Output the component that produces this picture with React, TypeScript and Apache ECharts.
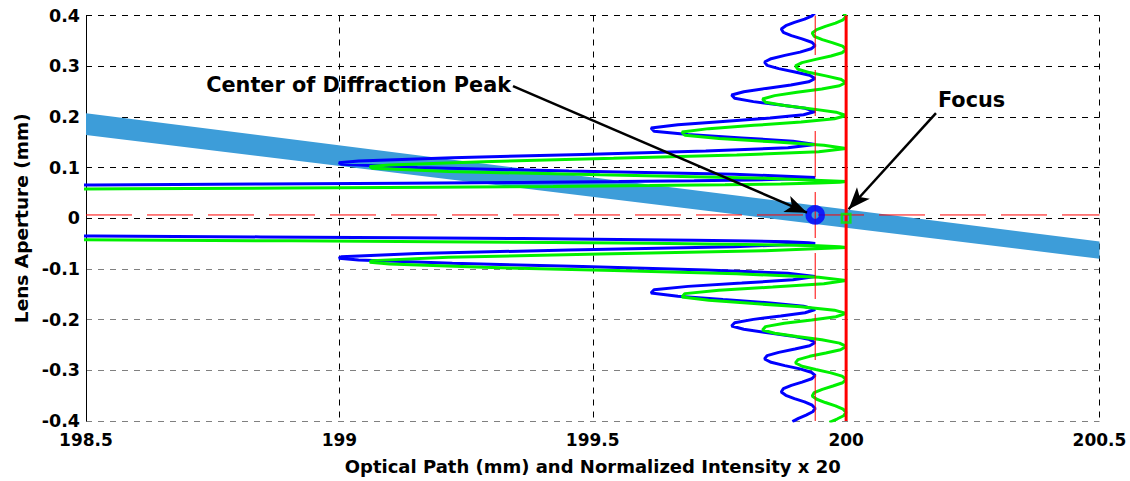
import React, { useEffect, useRef } from "react";
import * as echarts from "echarts";

// Axis ranges and tick steps
const pathRange = [198.5, 200.5];
const pathStep = 0.5;
const apertureRange = [-0.4, 0.4];
const apertureStep = 0.1;

// Ray bundle (filled band): optical path vs. upper / lower aperture edge
const bandPath = [198.5, 200.5];
const bandUpper = [0.207, -0.046];
const bandLower = [0.164, -0.08];

// Diffraction pattern around the peak: [optical path + intensity x 20, aperture]
const bluePattern: [number, number][] = [
  [199.939, 0.4059], [199.933, 0.3994], [199.918, 0.3929], [199.898, 0.3864], [199.881, 0.3799],
  [199.872, 0.3734], [199.876, 0.3668], [199.892, 0.3603], [199.913, 0.3538], [199.932, 0.3473],
  [199.939, 0.3408], [199.931, 0.3343], [199.909, 0.3278], [199.879, 0.3213], [199.852, 0.3148],
  [199.839, 0.3083], [199.844, 0.3017], [199.867, 0.2952], [199.899, 0.2887], [199.928, 0.2822],
  [199.939, 0.2757], [199.926, 0.2692], [199.891, 0.2627], [199.842, 0.2562], [199.798, 0.2497],
  [199.774, 0.2432], [199.78, 0.2366], [199.817, 0.2301], [199.871, 0.2236], [199.919, 0.2171],
  [199.939, 0.2106], [199.916, 0.2041], [199.85, 0.1976], [199.757, 0.1911], [199.668, 0.1846],
  [199.615, 0.1781], [199.621, 0.1715], [199.688, 0.165], [199.794, 0.1585], [199.895, 0.152],
  [199.939, 0.1455], [199.885, 0.139], [199.723, 0.1325], [199.48, 0.126], [199.223, 0.1195],
  [199.038, 0.113], [198.999, 0.1097], [199.004, 0.1064], [199.154, 0.0999], [199.453, 0.0934],
  [199.779, 0.0869], [199.939, 0.0804], [199.926, 0.0788], [199.884, 0.0772], [199.81, 0.0755],
  [199.7, 0.0739], [199.551, 0.0723], [199.361, 0.0706], [199.126, 0.069], [198.845, 0.0674],
  [198.516, 0.0658], [198.138, 0.0641], [197.232, 0.0609],
  [197.232, -0.0303], [198.138, -0.0335], [198.516, -0.0352], [198.845, -0.0368], [199.126, -0.0384],
  [199.361, -0.04], [199.551, -0.0417], [199.7, -0.0433], [199.81, -0.0449], [199.884, -0.0466],
  [199.926, -0.0482], [199.939, -0.0498], [199.779, -0.0563], [199.453, -0.0628], [199.154, -0.0693],
  [199.004, -0.0758], [198.999, -0.0791], [199.038, -0.0824], [199.223, -0.0889], [199.48, -0.0954],
  [199.723, -0.1019], [199.885, -0.1084], [199.939, -0.1149], [199.895, -0.1214], [199.794, -0.1279],
  [199.688, -0.1344], [199.621, -0.1409], [199.615, -0.1475], [199.668, -0.154], [199.757, -0.1605],
  [199.85, -0.167], [199.916, -0.1735], [199.939, -0.18], [199.919, -0.1865], [199.871, -0.193],
  [199.817, -0.1995], [199.78, -0.206], [199.774, -0.2126], [199.798, -0.2191], [199.842, -0.2256],
  [199.891, -0.2321], [199.926, -0.2386], [199.939, -0.2451], [199.928, -0.2516], [199.899, -0.2581],
  [199.867, -0.2646], [199.844, -0.2711], [199.839, -0.2777], [199.852, -0.2842], [199.879, -0.2907],
  [199.909, -0.2972], [199.931, -0.3037], [199.939, -0.3102], [199.932, -0.3167], [199.913, -0.3232],
  [199.892, -0.3297], [199.876, -0.3362], [199.872, -0.3428], [199.881, -0.3493], [199.898, -0.3558],
  [199.918, -0.3623], [199.933, -0.3688], [199.939, -0.3753], [199.934, -0.3818], [199.921, -0.3883],
  [199.906, -0.3948], [199.894, -0.4013],
];

// Diffraction pattern around the geometric focus
const greenPattern: [number, number][] = [
  [199.995, 0.4046], [200.0, 0.3981], [199.994, 0.3916], [199.979, 0.3851], [199.959, 0.3786],
  [199.942, 0.3721], [199.933, 0.3656], [199.937, 0.359], [199.953, 0.3525], [199.974, 0.346],
  [199.993, 0.3395], [200.0, 0.333], [199.992, 0.3265], [199.97, 0.32], [199.94, 0.3135],
  [199.913, 0.307], [199.9, 0.3005], [199.905, 0.2939], [199.928, 0.2874], [199.96, 0.2809],
  [199.989, 0.2744], [200.0, 0.2679], [199.987, 0.2614], [199.952, 0.2549], [199.903, 0.2484],
  [199.859, 0.2419], [199.835, 0.2354], [199.841, 0.2288], [199.878, 0.2223], [199.932, 0.2158],
  [199.98, 0.2093], [200.0, 0.2028], [199.977, 0.1963], [199.911, 0.1898], [199.818, 0.1833],
  [199.729, 0.1768], [199.676, 0.1703], [199.682, 0.1637], [199.749, 0.1572], [199.855, 0.1507],
  [199.956, 0.1442], [200.0, 0.1377], [199.946, 0.1312], [199.784, 0.1247], [199.541, 0.1182],
  [199.284, 0.1117], [199.099, 0.1052], [199.06, 0.1019], [199.065, 0.0986], [199.215, 0.0921],
  [199.514, 0.0856], [199.84, 0.0791], [200.0, 0.0726], [199.987, 0.071], [199.945, 0.0694],
  [199.871, 0.0677], [199.761, 0.0661], [199.612, 0.0645], [199.422, 0.0628], [199.187, 0.0612],
  [198.906, 0.0596], [198.577, 0.058], [198.199, 0.0563], [197.293, 0.0531],
  [197.293, -0.0381], [198.199, -0.0413], [198.577, -0.043], [198.906, -0.0446], [199.187, -0.0462],
  [199.422, -0.0478], [199.612, -0.0495], [199.761, -0.0511], [199.871, -0.0527], [199.945, -0.0543],
  [199.987, -0.056], [200.0, -0.0576], [199.84, -0.0641], [199.514, -0.0706], [199.215, -0.0771],
  [199.065, -0.0836], [199.06, -0.0869], [199.099, -0.0902], [199.284, -0.0967], [199.541, -0.1032],
  [199.784, -0.1097], [199.946, -0.1162], [200.0, -0.1227], [199.956, -0.1292], [199.855, -0.1357],
  [199.749, -0.1422], [199.682, -0.1487], [199.676, -0.1553], [199.729, -0.1618], [199.818, -0.1683],
  [199.911, -0.1748], [199.977, -0.1813], [200.0, -0.1878], [199.98, -0.1943], [199.932, -0.2008],
  [199.878, -0.2073], [199.841, -0.2138], [199.835, -0.2204], [199.859, -0.2269], [199.903, -0.2334],
  [199.952, -0.2399], [199.987, -0.2464], [200.0, -0.2529], [199.989, -0.2594], [199.96, -0.2659],
  [199.928, -0.2724], [199.905, -0.2789], [199.9, -0.2855], [199.913, -0.292], [199.94, -0.2985],
  [199.97, -0.305], [199.992, -0.3115], [200.0, -0.318], [199.993, -0.3245], [199.974, -0.331],
  [199.953, -0.3375], [199.937, -0.344], [199.933, -0.3506], [199.942, -0.3571], [199.959, -0.3636],
  [199.979, -0.3701], [199.994, -0.3766], [200.0, -0.3831], [199.995, -0.3896], [199.982, -0.3961],
  [199.967, -0.4026],
];

// Reference positions
const focusPath = 200;
const peakPath = 199.939;
const peakAperture = 0.0065;
const focusAperture = 0;

// Annotation texts and arrows (data coordinates)
const noteLabels = ["Center of Diffraction Peak", "Focus"];
const noteAnchors: [number, number][] = [[199.3387, 0.2628], [200.1813, 0.2332]];
const noteAlign = ["right", "left"];
const arrowStarts: [number, number][] = [[199.3426, 0.2608], [200.1773, 0.2075]];
const arrowEnds: [number, number][] = [[199.9228, 0.0109], [200.0049, 0.0177]];

const FONT = '"DejaVu Sans", "Liberation Sans", Arial, sans-serif';

export default function App() {
  const ref = useRef<HTMLDivElement>(null);

  useEffect(() => {
    if (!ref.current) return;
    const chart = echarts.init(ref.current, undefined, { renderer: "svg" });

    const gridColors = ["#808080", "#808080", "#808080", "#808080", "#000", "#000", "#000", "#000", "#000"];

    chart.setOption({
      animation: false,
      backgroundColor: "#fff",
      grid: { left: 86, right: 30.5, top: 15.5, bottom: 60, containLabel: false },
      xAxis: {
        type: "value",
        min: pathRange[0],
        max: pathRange[1],
        interval: pathStep,
        name: "Optical Path (mm) and Normalized Intensity x 20",
        nameLocation: "middle",
        nameGap: 36,
        nameTextStyle: { fontFamily: FONT, fontWeight: "bold", fontSize: 18, color: "#000" },
        axisLine: { show: false },
        axisTick: { show: false },
        axisLabel: { fontFamily: FONT, fontWeight: "bold", fontSize: 17, color: "#000", margin: 10 },
        splitLine: { show: true, lineStyle: { color: "#000", type: [6, 6], width: 1 } },
      },
      yAxis: {
        type: "value",
        min: apertureRange[0],
        max: apertureRange[1],
        interval: apertureStep,
        name: "Lens Aperture (mm)",
        nameLocation: "middle",
        nameGap: 52,
        nameTextStyle: { fontFamily: FONT, fontWeight: "bold", fontSize: 18.5, color: "#000" },
        axisLine: { show: true, onZero: false, lineStyle: { color: "#000", width: 1 } },
        axisTick: { show: false },
        axisLabel: { fontFamily: FONT, fontWeight: "bold", fontSize: 17.5, color: "#000", margin: 6 },
        splitLine: { show: true, lineStyle: { color: gridColors, type: [6, 6], width: 1 } },
      },
      series: [
        {
          type: "custom",
          name: "band",
          coordinateSystem: "cartesian2d",
          silent: true,
          clip: true,
          z: 1,
          data: [[bandPath[0], bandUpper[0]]],
          renderItem: (_params: any, api: any) => {
            const pts: number[][] = [];
            bandPath.forEach((x, i) => pts.push(api.coord([x, bandUpper[i]])));
            for (let i = bandPath.length - 1; i >= 0; i--) pts.push(api.coord([bandPath[i], bandLower[i]]));
            return { type: "polygon", shape: { points: pts }, style: { fill: "#3d9dd9" } };
          },
        },
        {
          type: "line",
          name: "peak",
          data: bluePattern,
          showSymbol: false,
          clip: true,
          z: 3,
          lineStyle: { color: "#0000ff", width: 3 },
        },
        {
          type: "line",
          name: "focus pattern",
          data: greenPattern,
          showSymbol: false,
          clip: true,
          z: 4,
          lineStyle: { color: "#00f000", width: 3 },
        },
        {
          type: "line",
          name: "peak marker line",
          data: [[peakPath, apertureRange[0]], [peakPath, apertureRange[1]]],
          showSymbol: false,
          z: 5,
          lineStyle: { color: "#ff0000", width: 1, type: [46, 15] },
        },
        {
          type: "line",
          name: "peak height line",
          data: [[pathRange[0], peakAperture], [pathRange[1], peakAperture]],
          showSymbol: false,
          z: 5,
          lineStyle: { color: "#ff0000", width: 1, type: [46, 15] },
        },
        {
          type: "line",
          name: "focus line",
          data: [[focusPath, apertureRange[0]], [focusPath, apertureRange[1]]],
          showSymbol: false,
          z: 6,
          lineStyle: { color: "#ff0000", width: 3 },
          markLine: {
            silent: true,
            symbol: ["none", "arrow"],
            symbolSize: [13, 22],
            label: { show: false },
            lineStyle: { color: "#000", width: 2.5, type: "solid" },
            data: arrowStarts.map((s, i) => [{ coord: s }, { coord: arrowEnds[i] }]),
            z: 10,
          },
        },
        {
          type: "scatter",
          name: "markers",
          z: 8,
          data: [
            { value: [peakPath, peakAperture], symbol: "circle", symbolSize: 13.5, itemStyle: { color: "rgba(0,0,0,0)", borderColor: "#0000ff", borderWidth: 6 } },
            { value: [focusPath, focusAperture], symbol: "rect", symbolSize: 8.5, itemStyle: { color: "rgba(0,0,0,0)", borderColor: "#00f000", borderWidth: 2.5 } },
          ],
        },
        {
          type: "custom",
          name: "notes",
          coordinateSystem: "cartesian2d",
          silent: true,
          clip: false,
          z: 11,
          data: noteAnchors,
          renderItem: (params: any, api: any) => {
            const i = params.dataIndex;
            const p = api.coord(noteAnchors[i]);
            return {
              type: "text",
              x: p[0],
              y: p[1],
              style: {
                text: noteLabels[i],
                fill: "#000",
                fontFamily: FONT,
                fontWeight: "bold",
                fontSize: 20.8,
                align: noteAlign[i],
                verticalAlign: "middle",
              },
            };
          },
        },
      ],
    });

    return () => chart.dispose();
  }, []);

  return <div ref={ref} style={{ position: "absolute", left: 0, top: 0, width: 1130, height: 481 }} />;
}
